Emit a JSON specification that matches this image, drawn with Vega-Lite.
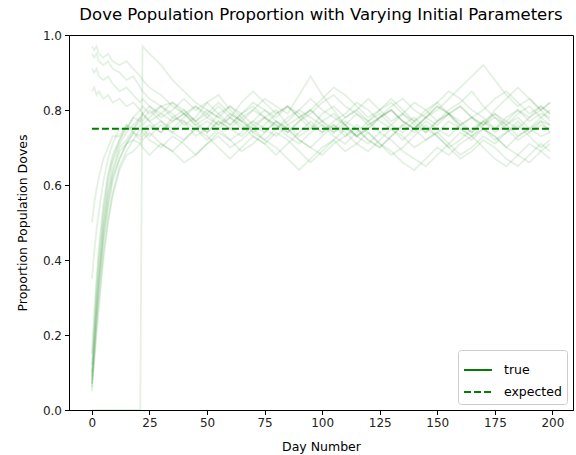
{
"$schema": "https://vega.github.io/schema/vega-lite/v6.json",
"width": 504, "height": 375,
"autosize": {"type": "none"},
"padding": {"left": 69, "top": 35, "right": 3, "bottom": 45},
"background": "white",
"title": {"text": "Dove Population Proportion with Varying Initial Parameters", "font": "DejaVu Sans", "fontSize": 16.5, "fontWeight": "normal", "color": "#000", "anchor": "middle", "frame": "group", "offset": 6},
"config": {
 "view": {"stroke": "black", "strokeWidth": 1},
 "axis": {"grid": false, "domainColor": "black", "tickColor": "black", "tickSize": 4.5, "labelFont": "DejaVu Sans", "labelFontSize": 12, "labelColor": "#222", "titleFont": "DejaVu Sans", "titleFontSize": 12.5, "titleFontWeight": "normal", "titleColor": "#000", "labelPadding": 3},
 "legend": {"orient": "bottom-right", "offset": 6, "padding": 5, "strokeColor": "#cccccc", "fillColor": "white", "cornerRadius": 3, "labelFont": "DejaVu Sans", "labelFontSize": 12.5, "labelColor": "#000", "symbolType": "stroke", "symbolSize": 784, "symbolStrokeWidth": 1.9, "symbolStrokeColor": "green", "symbolOpacity": 1, "labelOffset": 11, "rowPadding": -6}
},
"layer": [
{
 "data": {"values": [
{"r":1,"d":0,"p":0.05},{"r":1,"d":1,"p":0.15},{"r":1,"d":2,"p":0.24},{"r":1,"d":3,"p":0.32},{"r":1,"d":5,"p":0.45},{"r":1,"d":7,"p":0.54},{"r":1,"d":9,"p":0.61},{"r":1,"d":12,"p":0.67},{"r":1,"d":15,"p":0.71},{"r":1,"d":18,"p":0.74},{"r":1,"d":21,"p":0.73},{"r":1,"d":22,"p":0.75},
{"r":1,"d":25,"p":0.76},{"r":1,"d":30,"p":0.74},{"r":1,"d":35,"p":0.78},{"r":1,"d":40,"p":0.77},{"r":1,"d":45,"p":0.73},{"r":1,"d":50,"p":0.75},{"r":1,"d":55,"p":0.79},{"r":1,"d":60,"p":0.81},{"r":1,"d":65,"p":0.78},{"r":1,"d":70,"p":0.74},{"r":1,"d":75,"p":0.72},{"r":1,"d":80,"p":0.75},{"r":1,"d":85,"p":0.77},{"r":1,"d":90,"p":0.80},{"r":1,"d":95,"p":0.78},{"r":1,"d":100,"p":0.76},{"r":1,"d":105,"p":0.73},{"r":1,"d":110,"p":0.71},{"r":1,"d":115,"p":0.74},{"r":1,"d":120,"p":0.77},{"r":1,"d":125,"p":0.79},{"r":1,"d":130,"p":0.76},{"r":1,"d":135,"p":0.74},{"r":1,"d":140,"p":0.77},{"r":1,"d":145,"p":0.80},{"r":1,"d":150,"p":0.82},{"r":1,"d":155,"p":0.79},{"r":1,"d":160,"p":0.75},{"r":1,"d":165,"p":0.73},{"r":1,"d":170,"p":0.76},{"r":1,"d":175,"p":0.78},{"r":1,"d":180,"p":0.75},{"r":1,"d":185,"p":0.72},{"r":1,"d":190,"p":0.74},{"r":1,"d":195,"p":0.77},{"r":1,"d":199,"p":0.76},
{"r":2,"d":0,"p":0.07},{"r":2,"d":1,"p":0.18},{"r":2,"d":2,"p":0.28},{"r":2,"d":3,"p":0.36},{"r":2,"d":5,"p":0.49},{"r":2,"d":7,"p":0.58},{"r":2,"d":9,"p":0.64},{"r":2,"d":12,"p":0.70},{"r":2,"d":15,"p":0.72},{"r":2,"d":18,"p":0.75},{"r":2,"d":21,"p":0.77},{"r":2,"d":22,"p":0.76},
{"r":2,"d":25,"p":0.78},{"r":2,"d":30,"p":0.81},{"r":2,"d":35,"p":0.79},{"r":2,"d":40,"p":0.76},{"r":2,"d":45,"p":0.78},{"r":2,"d":50,"p":0.82},{"r":2,"d":55,"p":0.84},{"r":2,"d":60,"p":0.80},{"r":2,"d":65,"p":0.77},{"r":2,"d":70,"p":0.75},{"r":2,"d":75,"p":0.78},{"r":2,"d":80,"p":0.80},{"r":2,"d":85,"p":0.76},{"r":2,"d":90,"p":0.73},{"r":2,"d":95,"p":0.75},{"r":2,"d":100,"p":0.79},{"r":2,"d":105,"p":0.81},{"r":2,"d":110,"p":0.78},{"r":2,"d":115,"p":0.80},{"r":2,"d":120,"p":0.83},{"r":2,"d":125,"p":0.80},{"r":2,"d":130,"p":0.77},{"r":2,"d":135,"p":0.79},{"r":2,"d":140,"p":0.76},{"r":2,"d":145,"p":0.74},{"r":2,"d":150,"p":0.77},{"r":2,"d":155,"p":0.80},{"r":2,"d":160,"p":0.82},{"r":2,"d":165,"p":0.85},{"r":2,"d":170,"p":0.81},{"r":2,"d":175,"p":0.78},{"r":2,"d":180,"p":0.76},{"r":2,"d":185,"p":0.79},{"r":2,"d":190,"p":0.81},{"r":2,"d":195,"p":0.78},{"r":2,"d":199,"p":0.80},
{"r":3,"d":0,"p":0.08},{"r":3,"d":1,"p":0.16},{"r":3,"d":2,"p":0.25},{"r":3,"d":3,"p":0.33},{"r":3,"d":5,"p":0.46},{"r":3,"d":7,"p":0.55},{"r":3,"d":9,"p":0.62},{"r":3,"d":12,"p":0.67},{"r":3,"d":15,"p":0.71},{"r":3,"d":18,"p":0.72},{"r":3,"d":21,"p":0.75},{"r":3,"d":22,"p":0.74},
{"r":3,"d":25,"p":0.72},{"r":3,"d":30,"p":0.70},{"r":3,"d":35,"p":0.73},{"r":3,"d":40,"p":0.71},{"r":3,"d":45,"p":0.68},{"r":3,"d":50,"p":0.71},{"r":3,"d":55,"p":0.74},{"r":3,"d":60,"p":0.72},{"r":3,"d":65,"p":0.69},{"r":3,"d":70,"p":0.71},{"r":3,"d":75,"p":0.74},{"r":3,"d":80,"p":0.77},{"r":3,"d":85,"p":0.75},{"r":3,"d":90,"p":0.72},{"r":3,"d":95,"p":0.70},{"r":3,"d":100,"p":0.73},{"r":3,"d":105,"p":0.76},{"r":3,"d":110,"p":0.74},{"r":3,"d":115,"p":0.71},{"r":3,"d":120,"p":0.69},{"r":3,"d":125,"p":0.72},{"r":3,"d":130,"p":0.75},{"r":3,"d":135,"p":0.73},{"r":3,"d":140,"p":0.70},{"r":3,"d":145,"p":0.72},{"r":3,"d":150,"p":0.74},{"r":3,"d":155,"p":0.71},{"r":3,"d":160,"p":0.68},{"r":3,"d":165,"p":0.70},{"r":3,"d":170,"p":0.73},{"r":3,"d":175,"p":0.71},{"r":3,"d":180,"p":0.74},{"r":3,"d":185,"p":0.76},{"r":3,"d":190,"p":0.73},{"r":3,"d":195,"p":0.70},{"r":3,"d":199,"p":0.72},
{"r":4,"d":0,"p":0.10},{"r":4,"d":1,"p":0.20},{"r":4,"d":2,"p":0.30},{"r":4,"d":3,"p":0.38},{"r":4,"d":5,"p":0.51},{"r":4,"d":7,"p":0.60},{"r":4,"d":9,"p":0.66},{"r":4,"d":12,"p":0.71},{"r":4,"d":15,"p":0.74},{"r":4,"d":18,"p":0.76},{"r":4,"d":21,"p":0.78},{"r":4,"d":22,"p":0.77},
{"r":4,"d":25,"p":0.80},{"r":4,"d":30,"p":0.77},{"r":4,"d":35,"p":0.75},{"r":4,"d":40,"p":0.78},{"r":4,"d":45,"p":0.81},{"r":4,"d":50,"p":0.79},{"r":4,"d":55,"p":0.76},{"r":4,"d":60,"p":0.78},{"r":4,"d":65,"p":0.82},{"r":4,"d":70,"p":0.85},{"r":4,"d":75,"p":0.82},{"r":4,"d":80,"p":0.79},{"r":4,"d":85,"p":0.81},{"r":4,"d":90,"p":0.78},{"r":4,"d":95,"p":0.80},{"r":4,"d":100,"p":0.77},{"r":4,"d":105,"p":0.75},{"r":4,"d":110,"p":0.78},{"r":4,"d":115,"p":0.80},{"r":4,"d":120,"p":0.77},{"r":4,"d":125,"p":0.74},{"r":4,"d":130,"p":0.76},{"r":4,"d":135,"p":0.79},{"r":4,"d":140,"p":0.82},{"r":4,"d":145,"p":0.80},{"r":4,"d":150,"p":0.77},{"r":4,"d":155,"p":0.79},{"r":4,"d":160,"p":0.81},{"r":4,"d":165,"p":0.78},{"r":4,"d":170,"p":0.76},{"r":4,"d":175,"p":0.80},{"r":4,"d":180,"p":0.83},{"r":4,"d":185,"p":0.86},{"r":4,"d":190,"p":0.83},{"r":4,"d":195,"p":0.80},{"r":4,"d":199,"p":0.82},
{"r":5,"d":0,"p":0.06},{"r":5,"d":1,"p":0.14},{"r":5,"d":2,"p":0.22},{"r":5,"d":3,"p":0.29},{"r":5,"d":5,"p":0.42},{"r":5,"d":7,"p":0.51},{"r":5,"d":9,"p":0.58},{"r":5,"d":12,"p":0.65},{"r":5,"d":15,"p":0.69},{"r":5,"d":18,"p":0.72},{"r":5,"d":21,"p":0.71},{"r":5,"d":22,"p":0.72},
{"r":5,"d":25,"p":0.74},{"r":5,"d":30,"p":0.71},{"r":5,"d":35,"p":0.69},{"r":5,"d":40,"p":0.72},{"r":5,"d":45,"p":0.75},{"r":5,"d":50,"p":0.73},{"r":5,"d":55,"p":0.70},{"r":5,"d":60,"p":0.67},{"r":5,"d":65,"p":0.70},{"r":5,"d":70,"p":0.73},{"r":5,"d":75,"p":0.71},{"r":5,"d":80,"p":0.74},{"r":5,"d":85,"p":0.72},{"r":5,"d":90,"p":0.69},{"r":5,"d":95,"p":0.66},{"r":5,"d":100,"p":0.69},{"r":5,"d":105,"p":0.72},{"r":5,"d":110,"p":0.75},{"r":5,"d":115,"p":0.73},{"r":5,"d":120,"p":0.71},{"r":5,"d":125,"p":0.74},{"r":5,"d":130,"p":0.72},{"r":5,"d":135,"p":0.69},{"r":5,"d":140,"p":0.67},{"r":5,"d":145,"p":0.65},{"r":5,"d":150,"p":0.68},{"r":5,"d":155,"p":0.71},{"r":5,"d":160,"p":0.74},{"r":5,"d":165,"p":0.72},{"r":5,"d":170,"p":0.75},{"r":5,"d":175,"p":0.73},{"r":5,"d":180,"p":0.70},{"r":5,"d":185,"p":0.68},{"r":5,"d":190,"p":0.71},{"r":5,"d":195,"p":0.69},{"r":5,"d":199,"p":0.71},
{"r":6,"d":0,"p":0.12},{"r":6,"d":1,"p":0.23},{"r":6,"d":2,"p":0.33},{"r":6,"d":3,"p":0.41},{"r":6,"d":5,"p":0.53},{"r":6,"d":7,"p":0.62},{"r":6,"d":9,"p":0.67},{"r":6,"d":12,"p":0.72},{"r":6,"d":15,"p":0.76},{"r":6,"d":18,"p":0.75},{"r":6,"d":21,"p":0.78},{"r":6,"d":22,"p":0.79},
{"r":6,"d":25,"p":0.77},{"r":6,"d":30,"p":0.79},{"r":6,"d":35,"p":0.82},{"r":6,"d":40,"p":0.80},{"r":6,"d":45,"p":0.77},{"r":6,"d":50,"p":0.74},{"r":6,"d":55,"p":0.77},{"r":6,"d":60,"p":0.75},{"r":6,"d":65,"p":0.78},{"r":6,"d":70,"p":0.80},{"r":6,"d":75,"p":0.83},{"r":6,"d":80,"p":0.81},{"r":6,"d":85,"p":0.79},{"r":6,"d":90,"p":0.84},{"r":6,"d":95,"p":0.89},{"r":6,"d":100,"p":0.84},{"r":6,"d":105,"p":0.80},{"r":6,"d":110,"p":0.76},{"r":6,"d":115,"p":0.73},{"r":6,"d":120,"p":0.76},{"r":6,"d":125,"p":0.78},{"r":6,"d":130,"p":0.81},{"r":6,"d":135,"p":0.83},{"r":6,"d":140,"p":0.80},{"r":6,"d":145,"p":0.78},{"r":6,"d":150,"p":0.81},{"r":6,"d":155,"p":0.79},{"r":6,"d":160,"p":0.76},{"r":6,"d":165,"p":0.78},{"r":6,"d":170,"p":0.80},{"r":6,"d":175,"p":0.83},{"r":6,"d":180,"p":0.85},{"r":6,"d":185,"p":0.82},{"r":6,"d":190,"p":0.79},{"r":6,"d":195,"p":0.81},{"r":6,"d":199,"p":0.79},
{"r":7,"d":0,"p":0.09},{"r":7,"d":1,"p":0.19},{"r":7,"d":2,"p":0.27},{"r":7,"d":3,"p":0.35},{"r":7,"d":5,"p":0.48},{"r":7,"d":7,"p":0.57},{"r":7,"d":9,"p":0.63},{"r":7,"d":12,"p":0.69},{"r":7,"d":15,"p":0.71},{"r":7,"d":18,"p":0.74},{"r":7,"d":21,"p":0.76},{"r":7,"d":22,"p":0.75},
{"r":7,"d":25,"p":0.73},{"r":7,"d":30,"p":0.76},{"r":7,"d":35,"p":0.74},{"r":7,"d":40,"p":0.77},{"r":7,"d":45,"p":0.75},{"r":7,"d":50,"p":0.72},{"r":7,"d":55,"p":0.75},{"r":7,"d":60,"p":0.78},{"r":7,"d":65,"p":0.76},{"r":7,"d":70,"p":0.73},{"r":7,"d":75,"p":0.71},{"r":7,"d":80,"p":0.68},{"r":7,"d":85,"p":0.71},{"r":7,"d":90,"p":0.74},{"r":7,"d":95,"p":0.77},{"r":7,"d":100,"p":0.74},{"r":7,"d":105,"p":0.76},{"r":7,"d":110,"p":0.73},{"r":7,"d":115,"p":0.75},{"r":7,"d":120,"p":0.72},{"r":7,"d":125,"p":0.70},{"r":7,"d":130,"p":0.73},{"r":7,"d":135,"p":0.76},{"r":7,"d":140,"p":0.78},{"r":7,"d":145,"p":0.75},{"r":7,"d":150,"p":0.73},{"r":7,"d":155,"p":0.70},{"r":7,"d":160,"p":0.72},{"r":7,"d":165,"p":0.75},{"r":7,"d":170,"p":0.77},{"r":7,"d":175,"p":0.74},{"r":7,"d":180,"p":0.76},{"r":7,"d":185,"p":0.73},{"r":7,"d":190,"p":0.75},{"r":7,"d":195,"p":0.78},{"r":7,"d":199,"p":0.76},
{"r":8,"d":0,"p":0.15},{"r":8,"d":1,"p":0.26},{"r":8,"d":2,"p":0.35},{"r":8,"d":3,"p":0.43},{"r":8,"d":5,"p":0.55},{"r":8,"d":7,"p":0.63},{"r":8,"d":9,"p":0.68},{"r":8,"d":12,"p":0.72},{"r":8,"d":15,"p":0.75},{"r":8,"d":18,"p":0.78},{"r":8,"d":21,"p":0.77},{"r":8,"d":22,"p":0.79},
{"r":8,"d":25,"p":0.81},{"r":8,"d":30,"p":0.78},{"r":8,"d":35,"p":0.80},{"r":8,"d":40,"p":0.83},{"r":8,"d":45,"p":0.80},{"r":8,"d":50,"p":0.82},{"r":8,"d":55,"p":0.79},{"r":8,"d":60,"p":0.76},{"r":8,"d":65,"p":0.79},{"r":8,"d":70,"p":0.82},{"r":8,"d":75,"p":0.80},{"r":8,"d":80,"p":0.77},{"r":8,"d":85,"p":0.74},{"r":8,"d":90,"p":0.77},{"r":8,"d":95,"p":0.80},{"r":8,"d":100,"p":0.83},{"r":8,"d":105,"p":0.86},{"r":8,"d":110,"p":0.84},{"r":8,"d":115,"p":0.81},{"r":8,"d":120,"p":0.78},{"r":8,"d":125,"p":0.80},{"r":8,"d":130,"p":0.83},{"r":8,"d":135,"p":0.80},{"r":8,"d":140,"p":0.77},{"r":8,"d":145,"p":0.79},{"r":8,"d":150,"p":0.82},{"r":8,"d":155,"p":0.85},{"r":8,"d":160,"p":0.83},{"r":8,"d":165,"p":0.80},{"r":8,"d":170,"p":0.78},{"r":8,"d":175,"p":0.75},{"r":8,"d":180,"p":0.77},{"r":8,"d":185,"p":0.80},{"r":8,"d":190,"p":0.78},{"r":8,"d":195,"p":0.81},{"r":8,"d":199,"p":0.79},
{"r":9,"d":0,"p":0.07},{"r":9,"d":1,"p":0.13},{"r":9,"d":2,"p":0.20},{"r":9,"d":3,"p":0.27},{"r":9,"d":5,"p":0.40},{"r":9,"d":7,"p":0.50},{"r":9,"d":9,"p":0.57},{"r":9,"d":12,"p":0.64},{"r":9,"d":15,"p":0.68},{"r":9,"d":18,"p":0.69},{"r":9,"d":21,"p":0.71},{"r":9,"d":22,"p":0.70},
{"r":9,"d":25,"p":0.68},{"r":9,"d":30,"p":0.71},{"r":9,"d":35,"p":0.69},{"r":9,"d":40,"p":0.66},{"r":9,"d":45,"p":0.68},{"r":9,"d":50,"p":0.71},{"r":9,"d":55,"p":0.73},{"r":9,"d":60,"p":0.70},{"r":9,"d":65,"p":0.72},{"r":9,"d":70,"p":0.75},{"r":9,"d":75,"p":0.72},{"r":9,"d":80,"p":0.70},{"r":9,"d":85,"p":0.67},{"r":9,"d":90,"p":0.64},{"r":9,"d":95,"p":0.67},{"r":9,"d":100,"p":0.70},{"r":9,"d":105,"p":0.72},{"r":9,"d":110,"p":0.69},{"r":9,"d":115,"p":0.71},{"r":9,"d":120,"p":0.74},{"r":9,"d":125,"p":0.71},{"r":9,"d":130,"p":0.68},{"r":9,"d":135,"p":0.70},{"r":9,"d":140,"p":0.73},{"r":9,"d":145,"p":0.76},{"r":9,"d":150,"p":0.73},{"r":9,"d":155,"p":0.70},{"r":9,"d":160,"p":0.67},{"r":9,"d":165,"p":0.69},{"r":9,"d":170,"p":0.72},{"r":9,"d":175,"p":0.70},{"r":9,"d":180,"p":0.67},{"r":9,"d":185,"p":0.65},{"r":9,"d":190,"p":0.68},{"r":9,"d":195,"p":0.71},{"r":9,"d":199,"p":0.69},
{"r":10,"d":0,"p":0.35},{"r":10,"d":1,"p":0.42},{"r":10,"d":2,"p":0.48},{"r":10,"d":3,"p":0.53},{"r":10,"d":5,"p":0.61},{"r":10,"d":7,"p":0.67},{"r":10,"d":9,"p":0.71},{"r":10,"d":12,"p":0.75},{"r":10,"d":15,"p":0.75},{"r":10,"d":18,"p":0.78},{"r":10,"d":21,"p":0.80},{"r":10,"d":22,"p":0.79},
{"r":10,"d":25,"p":0.77},{"r":10,"d":30,"p":0.74},{"r":10,"d":35,"p":0.77},{"r":10,"d":40,"p":0.79},{"r":10,"d":45,"p":0.76},{"r":10,"d":50,"p":0.78},{"r":10,"d":55,"p":0.81},{"r":10,"d":60,"p":0.78},{"r":10,"d":65,"p":0.75},{"r":10,"d":70,"p":0.77},{"r":10,"d":75,"p":0.80},{"r":10,"d":80,"p":0.78},{"r":10,"d":85,"p":0.81},{"r":10,"d":90,"p":0.79},{"r":10,"d":95,"p":0.76},{"r":10,"d":100,"p":0.74},{"r":10,"d":105,"p":0.77},{"r":10,"d":110,"p":0.79},{"r":10,"d":115,"p":0.82},{"r":10,"d":120,"p":0.80},{"r":10,"d":125,"p":0.77},{"r":10,"d":130,"p":0.75},{"r":10,"d":135,"p":0.72},{"r":10,"d":140,"p":0.75},{"r":10,"d":145,"p":0.78},{"r":10,"d":150,"p":0.76},{"r":10,"d":155,"p":0.79},{"r":10,"d":160,"p":0.77},{"r":10,"d":165,"p":0.74},{"r":10,"d":170,"p":0.77},{"r":10,"d":175,"p":0.79},{"r":10,"d":180,"p":0.76},{"r":10,"d":185,"p":0.78},{"r":10,"d":190,"p":0.75},{"r":10,"d":195,"p":0.77},{"r":10,"d":199,"p":0.74},
{"r":11,"d":0,"p":0.50},{"r":11,"d":1,"p":0.55},{"r":11,"d":2,"p":0.59},{"r":11,"d":3,"p":0.62},{"r":11,"d":5,"p":0.67},{"r":11,"d":7,"p":0.70},{"r":11,"d":9,"p":0.73},{"r":11,"d":12,"p":0.73},{"r":11,"d":15,"p":0.76},{"r":11,"d":18,"p":0.74},{"r":11,"d":21,"p":0.72},{"r":11,"d":22,"p":0.73},
{"r":11,"d":25,"p":0.75},{"r":11,"d":30,"p":0.77},{"r":11,"d":35,"p":0.74},{"r":11,"d":40,"p":0.72},{"r":11,"d":45,"p":0.75},{"r":11,"d":50,"p":0.77},{"r":11,"d":55,"p":0.75},{"r":11,"d":60,"p":0.72},{"r":11,"d":65,"p":0.74},{"r":11,"d":70,"p":0.77},{"r":11,"d":75,"p":0.75},{"r":11,"d":80,"p":0.73},{"r":11,"d":85,"p":0.76},{"r":11,"d":90,"p":0.78},{"r":11,"d":95,"p":0.75},{"r":11,"d":100,"p":0.77},{"r":11,"d":105,"p":0.74},{"r":11,"d":110,"p":0.76},{"r":11,"d":115,"p":0.73},{"r":11,"d":120,"p":0.75},{"r":11,"d":125,"p":0.78},{"r":11,"d":130,"p":0.80},{"r":11,"d":135,"p":0.77},{"r":11,"d":140,"p":0.75},{"r":11,"d":145,"p":0.72},{"r":11,"d":150,"p":0.74},{"r":11,"d":155,"p":0.77},{"r":11,"d":160,"p":0.75},{"r":11,"d":165,"p":0.73},{"r":11,"d":170,"p":0.75},{"r":11,"d":175,"p":0.72},{"r":11,"d":180,"p":0.74},{"r":11,"d":185,"p":0.77},{"r":11,"d":190,"p":0.74},{"r":11,"d":195,"p":0.76},{"r":11,"d":199,"p":0.75},
{"r":12,"d":0,"p":0.85},{"r":12,"d":1,"p":0.86},{"r":12,"d":2,"p":0.84},{"r":12,"d":3,"p":0.85},{"r":12,"d":5,"p":0.83},{"r":12,"d":7,"p":0.84},{"r":12,"d":9,"p":0.82},{"r":12,"d":12,"p":0.83},{"r":12,"d":15,"p":0.81},{"r":12,"d":18,"p":0.82},{"r":12,"d":21,"p":0.80},{"r":12,"d":22,"p":0.81},
{"r":12,"d":25,"p":0.79},{"r":12,"d":30,"p":0.81},{"r":12,"d":35,"p":0.78},{"r":12,"d":40,"p":0.80},{"r":12,"d":45,"p":0.77},{"r":12,"d":50,"p":0.79},{"r":12,"d":55,"p":0.82},{"r":12,"d":60,"p":0.79},{"r":12,"d":65,"p":0.77},{"r":12,"d":70,"p":0.80},{"r":12,"d":75,"p":0.78},{"r":12,"d":80,"p":0.75},{"r":12,"d":85,"p":0.78},{"r":12,"d":90,"p":0.80},{"r":12,"d":95,"p":0.83},{"r":12,"d":100,"p":0.80},{"r":12,"d":105,"p":0.78},{"r":12,"d":110,"p":0.76},{"r":12,"d":115,"p":0.79},{"r":12,"d":120,"p":0.77},{"r":12,"d":125,"p":0.80},{"r":12,"d":130,"p":0.82},{"r":12,"d":135,"p":0.79},{"r":12,"d":140,"p":0.77},{"r":12,"d":145,"p":0.74},{"r":12,"d":150,"p":0.77},{"r":12,"d":155,"p":0.79},{"r":12,"d":160,"p":0.81},{"r":12,"d":165,"p":0.78},{"r":12,"d":170,"p":0.76},{"r":12,"d":175,"p":0.79},{"r":12,"d":180,"p":0.77},{"r":12,"d":185,"p":0.75},{"r":12,"d":190,"p":0.78},{"r":12,"d":195,"p":0.80},{"r":12,"d":199,"p":0.77},
{"r":13,"d":0,"p":0.91},{"r":13,"d":1,"p":0.90},{"r":13,"d":2,"p":0.91},{"r":13,"d":3,"p":0.89},{"r":13,"d":5,"p":0.88},{"r":13,"d":7,"p":0.89},{"r":13,"d":9,"p":0.87},{"r":13,"d":12,"p":0.85},{"r":13,"d":15,"p":0.86},{"r":13,"d":18,"p":0.84},{"r":13,"d":21,"p":0.82},{"r":13,"d":22,"p":0.83},
{"r":13,"d":25,"p":0.81},{"r":13,"d":30,"p":0.79},{"r":13,"d":35,"p":0.77},{"r":13,"d":40,"p":0.79},{"r":13,"d":45,"p":0.76},{"r":13,"d":50,"p":0.74},{"r":13,"d":55,"p":0.77},{"r":13,"d":60,"p":0.75},{"r":13,"d":65,"p":0.73},{"r":13,"d":70,"p":0.76},{"r":13,"d":75,"p":0.78},{"r":13,"d":80,"p":0.76},{"r":13,"d":85,"p":0.73},{"r":13,"d":90,"p":0.71},{"r":13,"d":95,"p":0.74},{"r":13,"d":100,"p":0.76},{"r":13,"d":105,"p":0.74},{"r":13,"d":110,"p":0.77},{"r":13,"d":115,"p":0.75},{"r":13,"d":120,"p":0.72},{"r":13,"d":125,"p":0.70},{"r":13,"d":130,"p":0.73},{"r":13,"d":135,"p":0.76},{"r":13,"d":140,"p":0.74},{"r":13,"d":145,"p":0.77},{"r":13,"d":150,"p":0.75},{"r":13,"d":155,"p":0.73},{"r":13,"d":160,"p":0.76},{"r":13,"d":165,"p":0.78},{"r":13,"d":170,"p":0.75},{"r":13,"d":175,"p":0.73},{"r":13,"d":180,"p":0.70},{"r":13,"d":185,"p":0.73},{"r":13,"d":190,"p":0.75},{"r":13,"d":195,"p":0.73},{"r":13,"d":199,"p":0.74},
{"r":14,"d":0,"p":0.95},{"r":14,"d":1,"p":0.94},{"r":14,"d":2,"p":0.95},{"r":14,"d":3,"p":0.93},{"r":14,"d":5,"p":0.92},{"r":14,"d":7,"p":0.93},{"r":14,"d":9,"p":0.91},{"r":14,"d":12,"p":0.90},{"r":14,"d":15,"p":0.88},{"r":14,"d":18,"p":0.89},{"r":14,"d":21,"p":0.86},{"r":14,"d":22,"p":0.85},
{"r":14,"d":25,"p":0.83},{"r":14,"d":30,"p":0.81},{"r":14,"d":35,"p":0.82},{"r":14,"d":40,"p":0.79},{"r":14,"d":45,"p":0.77},{"r":14,"d":50,"p":0.80},{"r":14,"d":55,"p":0.78},{"r":14,"d":60,"p":0.76},{"r":14,"d":65,"p":0.79},{"r":14,"d":70,"p":0.81},{"r":14,"d":75,"p":0.78},{"r":14,"d":80,"p":0.76},{"r":14,"d":85,"p":0.74},{"r":14,"d":90,"p":0.77},{"r":14,"d":95,"p":0.79},{"r":14,"d":100,"p":0.82},{"r":14,"d":105,"p":0.84},{"r":14,"d":110,"p":0.81},{"r":14,"d":115,"p":0.79},{"r":14,"d":120,"p":0.76},{"r":14,"d":125,"p":0.78},{"r":14,"d":130,"p":0.80},{"r":14,"d":135,"p":0.77},{"r":14,"d":140,"p":0.75},{"r":14,"d":145,"p":0.78},{"r":14,"d":150,"p":0.80},{"r":14,"d":155,"p":0.83},{"r":14,"d":160,"p":0.86},{"r":14,"d":165,"p":0.89},{"r":14,"d":170,"p":0.92},{"r":14,"d":175,"p":0.88},{"r":14,"d":180,"p":0.84},{"r":14,"d":185,"p":0.81},{"r":14,"d":190,"p":0.83},{"r":14,"d":195,"p":0.80},{"r":14,"d":199,"p":0.82},
{"r":15,"d":0,"p":0.97},{"r":15,"d":1,"p":0.96},{"r":15,"d":2,"p":0.97},{"r":15,"d":3,"p":0.95},{"r":15,"d":5,"p":0.94},{"r":15,"d":7,"p":0.95},{"r":15,"d":9,"p":0.93},{"r":15,"d":12,"p":0.92},{"r":15,"d":15,"p":0.93},{"r":15,"d":18,"p":0.91},{"r":15,"d":21,"p":0.89},{"r":15,"d":22,"p":0.88},
{"r":15,"d":25,"p":0.86},{"r":15,"d":30,"p":0.84},{"r":15,"d":35,"p":0.81},{"r":15,"d":40,"p":0.79},{"r":15,"d":45,"p":0.81},{"r":15,"d":50,"p":0.78},{"r":15,"d":55,"p":0.76},{"r":15,"d":60,"p":0.79},{"r":15,"d":65,"p":0.77},{"r":15,"d":70,"p":0.74},{"r":15,"d":75,"p":0.76},{"r":15,"d":80,"p":0.79},{"r":15,"d":85,"p":0.81},{"r":15,"d":90,"p":0.78},{"r":15,"d":95,"p":0.80},{"r":15,"d":100,"p":0.77},{"r":15,"d":105,"p":0.79},{"r":15,"d":110,"p":0.76},{"r":15,"d":115,"p":0.73},{"r":15,"d":120,"p":0.75},{"r":15,"d":125,"p":0.78},{"r":15,"d":130,"p":0.80},{"r":15,"d":135,"p":0.77},{"r":15,"d":140,"p":0.75},{"r":15,"d":145,"p":0.78},{"r":15,"d":150,"p":0.81},{"r":15,"d":155,"p":0.79},{"r":15,"d":160,"p":0.76},{"r":15,"d":165,"p":0.74},{"r":15,"d":170,"p":0.77},{"r":15,"d":175,"p":0.75},{"r":15,"d":180,"p":0.78},{"r":15,"d":185,"p":0.80},{"r":15,"d":190,"p":0.77},{"r":15,"d":195,"p":0.79},{"r":15,"d":199,"p":0.78},
{"r":16,"d":0,"p":0.0},{"r":16,"d":5,"p":0.0},{"r":16,"d":12,"p":0.0},{"r":16,"d":21,"p":0.0},{"r":16,"d":22,"p":0.97},
{"r":16,"d":25,"p":0.95},{"r":16,"d":30,"p":0.92},{"r":16,"d":35,"p":0.88},{"r":16,"d":40,"p":0.85},{"r":16,"d":45,"p":0.82},{"r":16,"d":50,"p":0.80},{"r":16,"d":55,"p":0.78},{"r":16,"d":60,"p":0.81},{"r":16,"d":65,"p":0.79},{"r":16,"d":70,"p":0.76},{"r":16,"d":75,"p":0.74},{"r":16,"d":80,"p":0.77},{"r":16,"d":85,"p":0.75},{"r":16,"d":90,"p":0.72},{"r":16,"d":95,"p":0.70},{"r":16,"d":100,"p":0.68},{"r":16,"d":105,"p":0.71},{"r":16,"d":110,"p":0.73},{"r":16,"d":115,"p":0.76},{"r":16,"d":120,"p":0.74},{"r":16,"d":125,"p":0.71},{"r":16,"d":130,"p":0.69},{"r":16,"d":135,"p":0.66},{"r":16,"d":140,"p":0.64},{"r":16,"d":145,"p":0.67},{"r":16,"d":150,"p":0.70},{"r":16,"d":155,"p":0.68},{"r":16,"d":160,"p":0.71},{"r":16,"d":165,"p":0.73},{"r":16,"d":170,"p":0.70},{"r":16,"d":175,"p":0.67},{"r":16,"d":180,"p":0.65},{"r":16,"d":185,"p":0.68},{"r":16,"d":190,"p":0.66},{"r":16,"d":195,"p":0.69},{"r":16,"d":199,"p":0.67}
 ]},
 "mark": {"type": "line", "color": "green", "strokeOpacity": 0.11, "strokeWidth": 1.8, "clip": true},
 "encoding": {
  "x": {"field": "d", "type": "quantitative", "title": "Day Number", "scale": {"domain": [-9.95, 208.95], "nice": false, "zero": false}, "axis": {"values": [0,25,50,75,100,125,150,175,200], "titlePadding": 12}},
  "y": {"field": "p", "type": "quantitative", "title": "Proportion Population Doves", "scale": {"domain": [0, 1], "nice": false}, "axis": {"values": [0,0.2,0.4,0.6,0.8,1.0], "format": ".1f", "titlePadding": 13}},
  "detail": {"field": "r", "type": "nominal"},
  "order": {"field": "d", "type": "quantitative"},
  "strokeDash": {"datum": "true", "scale": {"domain": ["true", "expected"], "range": [[1, 0], [7, 3]]}, "legend": {"title": null, "symbolOpacity": 1}}
 }
},
{
 "data": {"values": [{"d": 0, "p": 0.75}, {"d": 199, "p": 0.75}]},
 "mark": {"type": "line", "color": "green", "strokeWidth": 1.9},
 "encoding": {
  "x": {"field": "d", "type": "quantitative"},
  "y": {"field": "p", "type": "quantitative"},
  "strokeDash": {"datum": "expected"}
 }
}
]
}
